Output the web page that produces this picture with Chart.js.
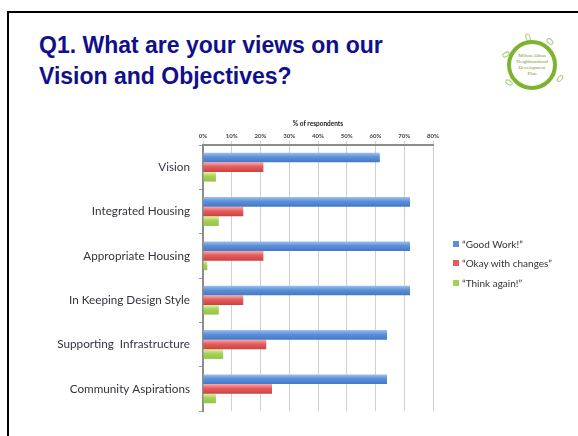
<!DOCTYPE html>
<html>
<head>
<meta charset="utf-8">
<script src="https://cdn.jsdelivr.net/npm/chart.js@4.4.1/dist/chart.umd.min.js"></script>
<style>
  html, body { margin: 0; padding: 0; background: #fff; }
  #slide { position: relative; width: 578px; height: 436px; overflow: hidden; }
  #frame { position: absolute; left: 7px; top: 11px; width: 620px; height: 480px; border: 2px solid #000; }
  #titulo { position: absolute; left: 39px; top: 30px; margin: 0;
    font: bold 23px "Liberation Sans", Arial, sans-serif; line-height: 31px; color: #10108c; }
  #logo { position: absolute; left: 507px; top: 40px; width: 42px; height: 42px;
    border: 4px solid #7db32f; border-radius: 50%; display: flex; flex-direction: column;
    align-items: center; justify-content: center;
    font: 5px/6px "Liberation Serif", serif; color: #6c9c2c; text-align: center; }
  .hoja { position: absolute; width: 6px; height: 3px; border: 1px solid #a8cf78; border-radius: 50%; }
  #grafico { position: absolute; left: 0; top: 0; width: 578px; height: 436px; }
  #leyenda { position: absolute; left: 453px; top: 234px; font: 10px "Lato", sans-serif; color: #333; }
  #leyenda div { height: 19.5px; display: flex; align-items: center; }
  #leyenda span { display: inline-block; width: 6px; height: 6px; margin-right: 3px; }
</style>
</head>
<body>
<div id="slide">
  <div id="frame"></div>
  <h1 id="titulo">Q1. What are your views on our<br>Vision and Objectives?</h1>
  <div class="hoja" style="left:502px;top:52px;transform:rotate(-30deg)"></div>
  <div class="hoja" style="left:524px;top:35px;transform:rotate(70deg)"></div>
  <div class="hoja" style="left:546px;top:39px;transform:rotate(40deg)"></div>
  <div class="hoja" style="left:556px;top:76px;transform:rotate(-50deg)"></div>
  <div class="hoja" style="left:505px;top:80px;transform:rotate(30deg)"></div>
  <div id="logo"><div>Milton Abbas</div><div>Neighbourhood</div><div>Development</div><div>Plan</div></div>
  <div id="grafico"><canvas id="respuestasChart"></canvas></div>
  <div id="leyenda"></div>
</div>
<script>
// categorías y porcentajes de cada respuesta
const categorias = ['Vision', 'Integrated Housing', 'Appropriate Housing', 'In Keeping Design Style', 'Supporting  Infrastructure', 'Community Aspirations'];
const buenTrabajo = [61.5, 72, 72, 72, 64, 64];
const conCambios = [21, 14, 21, 14, 22, 24];
const pensarOtraVez = [4.5, 5.5, 1.5, 5.5, 7, 4.5];
const ticksX = [0, 10, 20, 30, 40, 50, 60, 70, 80];

const series = [
  { label: '\u201cGood Work!\u201d', data: buenTrabajo, claro: '#9cc0f0', oscuro: '#4378c8', muestra: '#5b8fd6' },
  { label: '\u201cOkay with changes\u201d', data: conCambios, claro: '#ffa8a8', oscuro: '#cf4040', muestra: '#e35d5d' },
  { label: '\u201cThink again!\u201d', data: pensarOtraVez, claro: '#dcf5a8', oscuro: '#93c444', muestra: '#a6d157' }
];

const PORC_CATEGORIA = 0.65;

// degradado vertical en cada barra, calculado con la escala de categorías
function degradado(ctx, serie, indice) {
  const chart = ctx.chart;
  if (!chart.chartArea || !chart.scales.y) return serie.muestra;
  const y = chart.scales.y;
  const centro = y.getPixelForValue(ctx.dataIndex);
  const alto = (y.height / categorias.length) * PORC_CATEGORIA / series.length;
  const arriba = centro - alto * series.length / 2 + alto * indice;
  const g = chart.ctx.createLinearGradient(0, arriba, 0, arriba + alto);
  g.addColorStop(0, serie.claro);
  g.addColorStop(0.45, serie.muestra);
  g.addColorStop(1, serie.oscuro);
  return g;
}

const ctxRespuestas = document.getElementById('respuestasChart').getContext('2d');
new Chart(ctxRespuestas, {
  type: 'bar',
  data: {
    labels: categorias,
    datasets: series.map((s, i) => ({
      label: s.label,
      data: s.data,
      backgroundColor: ctx => degradado(ctx, s, i),
      borderWidth: 0,
      barPercentage: 1,
      categoryPercentage: PORC_CATEGORIA
    }))
  },
  options: {
    indexAxis: 'y',
    responsive: true,
    maintainAspectRatio: false,
    animation: false,
    layout: { padding: { left: 0, right: 145, top: 110, bottom: 25 } },
    plugins: { legend: { display: false }, tooltip: { enabled: false } },
    scales: {
      x: {
        position: 'top',
        min: 0, max: 80,
        afterBuildTicks: s => { s.ticks = ticksX.map(v => ({ value: v })); },
        afterFit: s => { s.height = 35; },
        ticks: { callback: v => v + '%', font: { family: 'Lato', size: 6, weight: 'bold' }, color: '#444', padding: 1, maxRotation: 0 },
        title: { display: true, text: '% of respondents', font: { family: 'Lato', size: 6.5, weight: 'bold' }, color: '#222', padding: { top: 10, bottom: 0 } },
        grid: { color: '#d0d0d0', lineWidth: 1, tickLength: 4 },
        border: { color: '#8c8c8c', width: 2 }
      },
      y: {
        afterFit: s => { s.width = 203; },
        ticks: { font: { family: 'Lato', size: 11.7 }, color: '#333340', padding: 9 },
        grid: { drawOnChartArea: false, offset: true, tickLength: 4, color: '#9a9a9a' },
        border: { color: '#8c8c8c', width: 2 }
      }
    }
  }
});

// leyenda a la derecha
const leyenda = document.getElementById('leyenda');
series.forEach(s => {
  const fila = document.createElement('div');
  fila.innerHTML = '<span style="background:' + s.muestra + '"></span>' + s.label;
  leyenda.appendChild(fila);
});
</script>
</body>
</html>
